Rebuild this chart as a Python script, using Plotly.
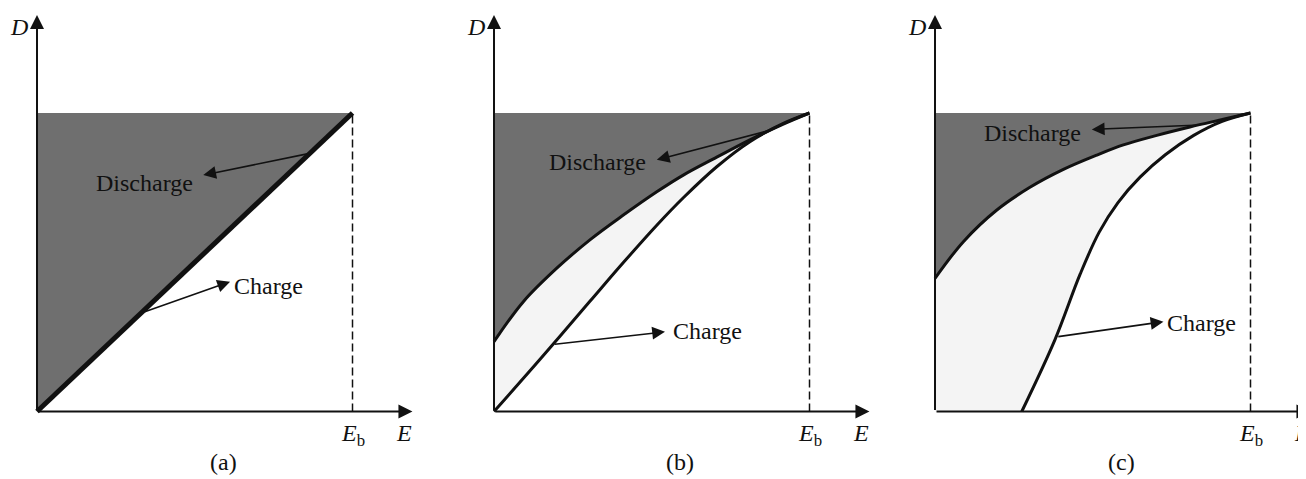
import plotly.graph_objects as go
from plotly.subplots import make_subplots

# E axis is scaled so that E_b = 1, D axis so that the saturation value = 1
eb = 1.0
d_max = 1.0

# (a) linear dielectric: charge and discharge on the same straight line
line_a_x = [0, 1]
line_a_y = [0, 1]

# (b)
discharge_b_x = [0, 0.093, 0.199, 0.304, 0.41, 0.516, 0.6, 0.706, 0.811, 0.917, 1]
discharge_b_y = [0.234, 0.368, 0.48, 0.575, 0.658, 0.736, 0.792, 0.852, 0.91, 0.963, 1]
charge_b_x = [0, 0.146, 0.304, 0.41, 0.516, 0.6, 0.706, 0.811, 0.917, 1]
charge_b_y = [0, 0.175, 0.369, 0.499, 0.624, 0.716, 0.82, 0.904, 0.965, 1]

# (c)
discharge_c_x = [0, 0.09, 0.196, 0.301, 0.407, 0.513, 0.597, 0.703, 0.808, 0.914, 1]
discharge_c_y = [0.446, 0.569, 0.675, 0.751, 0.811, 0.859, 0.893, 0.925, 0.953, 0.979, 1]
charge_c_x = [0.275, 0.38, 0.46, 0.52, 0.58, 0.65, 0.73, 0.82, 0.91, 1]
charge_c_y = [0, 0.24, 0.46, 0.6, 0.7, 0.785, 0.86, 0.925, 0.972, 1]

panel_labels = ["(a)", "(b)", "(c)"]

DARK = "#6f6f6f"
LIGHT = "#f4f4f4"
INK = "#111111"
FONT = "Liberation Serif"

# the page body has an 8px margin, so the figure is drawn 8px smaller
PAGE_OFF = 8
W, H = 1306 - PAGE_OFF, 479 - PAGE_OFF
ppu_x = 315.5
ppu_y = 298.5
origins_px = [37, 494, 935]
origin_py = 411.5 - PAGE_OFF
x_end = [1.25, 1.25, 1.175]
x_start = -0.09
y_range = [-(H - origin_py) / ppu_y, origin_py / ppu_y]

fig = make_subplots(rows=1, cols=3)

panels = [
    (line_a_x, line_a_y, line_a_x, line_a_y),
    (discharge_b_x, discharge_b_y, charge_b_x, charge_b_y),
    (discharge_c_x, discharge_c_y, charge_c_x, charge_c_y),
]

for i, (dx, dy, cx, cy) in enumerate(panels):
    col = i + 1
    # dark region: recovered (discharge) energy, above the discharge curve
    fig.add_trace(go.Scatter(
        x=dx + [0, dx[0]], y=dy + [d_max, dy[0]],
        fill="toself", fillcolor=DARK, mode="lines", line=dict(width=0),
        hoverinfo="skip", showlegend=False), row=1, col=col)
    if i > 0:
        # light region: loss between charge and discharge
        lx = dx + cx[::-1] + ([0] if cx[0] > 0 else []) + [dx[0]]
        ly = dy + cy[::-1] + ([0] if cx[0] > 0 else []) + [dy[0]]
        fig.add_trace(go.Scatter(
            x=lx, y=ly, fill="toself", fillcolor=LIGHT, mode="lines",
            line=dict(width=0), hoverinfo="skip", showlegend=False),
            row=1, col=col)
        fig.add_trace(go.Scatter(x=dx, y=dy, mode="lines",
                                 line=dict(color=INK, width=3, shape="spline"),
                                 hoverinfo="skip", showlegend=False), row=1, col=col)
        fig.add_trace(go.Scatter(x=cx, y=cy, mode="lines",
                                 line=dict(color=INK, width=3, shape="spline"),
                                 hoverinfo="skip", showlegend=False), row=1, col=col)
    else:
        fig.add_trace(go.Scatter(x=dx, y=dy, mode="lines",
                                 line=dict(color=INK, width=5),
                                 hoverinfo="skip", showlegend=False), row=1, col=col)
    # dashed line at E_b
    fig.add_trace(go.Scatter(x=[eb, eb], y=[0, d_max], mode="lines",
                             line=dict(color=INK, width=1.5, dash="8px,4px"),
                             hoverinfo="skip", showlegend=False), row=1, col=col)

annotations = []


def arrow(xr, yr, x0, y0, x1, y1, width=1.6, size=1.6):
    return dict(x=x1, y=y1, ax=x0, ay=y0, xref=xr, yref=yr, axref=xr, ayref=yr,
                text="", showarrow=True, arrowhead=2, arrowsize=size,
                arrowwidth=width, arrowcolor=INK, standoff=0, startstandoff=0)


def label(xr, yr, x, y, text, size=24):
    return dict(x=x, y=y, xref=xr, yref=yr, text=text, showarrow=False,
                font=dict(family=FONT, size=size, color=INK))


# callouts: (arrow tail, arrow tip, text centre)
discharge_callouts = [
    ((0.865, 0.865), (0.527, 0.792), (0.341, 0.765)),
    ((0.885, 0.945), (0.516, 0.843), (0.328, 0.836)),
    ((0.845, 0.960), (0.497, 0.945), (0.309, 0.933)),
]
charge_callouts = [
    ((0.337, 0.332), (0.612, 0.435), (0.735, 0.42)),
    ((0.188, 0.225), (0.542, 0.267), (0.677, 0.27)),
    ((0.386, 0.250), (0.724, 0.301), (0.845, 0.298)),
]

for i in range(3):
    xr = "x" if i == 0 else f"x{i + 1}"
    yr = "y" if i == 0 else f"y{i + 1}"
    # axes with arrowheads
    annotations.append(arrow(xr, yr, 0, 0, 1.19, 0, width=2, size=1.4))
    annotations.append(arrow(xr, yr, 0, 0, 0, 1.328, width=2, size=1.4))
    annotations.append(label(xr, yr, -0.058, 1.288, "<i>D</i>"))
    annotations.append(label(xr, yr, 1.163, -0.072, "<i>E</i>"))
    annotations.append(label(xr, yr, 1.0, -0.078, "<i>E</i><sub>b</sub>"))
    annotations.append(label(xr, yr, 0.59, -0.169, panel_labels[i]))
    for (t0, t1, tc), word in [(discharge_callouts[i], "Discharge"), (charge_callouts[i], "Charge")]:
        annotations.append(arrow(xr, yr, t0[0], t0[1], t1[0], t1[1]))
        annotations.append(label(xr, yr, tc[0], tc[1], word))

fig.update_layout(
    width=W, height=H, margin=dict(l=0, r=0, t=0, b=0),
    plot_bgcolor="white", paper_bgcolor="white",
    annotations=annotations, showlegend=False,
)

for i in range(3):
    o = origins_px[i] - PAGE_OFF
    dom = [max(0.0, (o + x_start * ppu_x) / W), min(1.0, (o + x_end[i] * ppu_x) / W)]
    fig.update_xaxes(domain=dom, range=[x_start, x_end[i]], visible=False,
                     fixedrange=True, row=1, col=i + 1)
    fig.update_yaxes(domain=[0, 1], range=y_range, visible=False,
                     fixedrange=True, row=1, col=i + 1)

fig.write_html("out.html")
